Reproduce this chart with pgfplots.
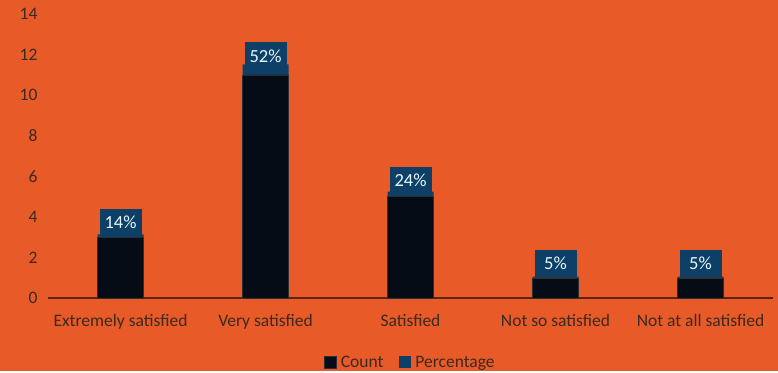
\documentclass[border=0pt]{standalone}
\usepackage{pgfplots}
\pgfplotsset{compat=1.18}
\usepackage{fontspec}
\setmainfont{Carlito}
\definecolor{bgorange}{HTML}{E85A27}
\definecolor{barblack}{HTML}{050C16}
\definecolor{navy}{HTML}{0D3F67}
\definecolor{labgray}{HTML}{3A2A22}
\begin{document}
\begin{tikzpicture}
\fill[bgorange] (0,0) rectangle (778bp,371bp);
\begin{axis}[
  at={(48bp,73bp)}, anchor=south west,
  scale only axis, width=725bp, height=284bp,
  ybar stacked, bar width=46bp,
  xmin=-0.5, xmax=4.5, ymin=0, ymax=14,
  xtick=data,
  xticklabels={Extremely satisfied, Very satisfied, Satisfied, Not so satisfied, Not at all satisfied},
  ytick={0,2,...,14},
  major tick length=0,
  axis lines=left,
  y axis line style={draw=none},
  x axis line style={draw=black!60!bgorange, line width=1.2pt, -},
  ticklabel style={font=\fontsize{17.5bp}{20bp}\selectfont, text=labgray},
  /pgf/number format/assume math mode=true,
  xticklabel style={yshift=-13bp},
  yticklabel style={xshift=-7bp},
  legend style={at={(0.5,-0.227)}, anchor=center, legend columns=2, draw=none, fill=none,
    font=\fontsize{17.5bp}{20bp}\selectfont, text=labgray,
    /tikz/every even column/.append style={column sep=14bp}},
  legend image code/.code={\fill[#1] (0bp,-6bp) rectangle (12bp,6bp);},
  clip=false,
]
\addplot[fill=barblack, draw=barblack!70!gray] coordinates {(0,3) (1,11) (2,5) (3,1) (4,1)};
\addlegendentry{\hspace{2bp}Count}
\addplot[fill=navy, draw=none,
  point meta=explicit symbolic,
  nodes near coords,
  every node near coord/.style={anchor=south, fill=navy, text=white!90!cyan, inner sep=0pt,
    minimum width=42bp, minimum height=27bp, font=\fontsize{18.5bp}{20bp}\selectfont}]
  coordinates {(0,0.14)[14\%] (1,0.52)[52\%] (2,0.24)[24\%] (3,0.05)[5\%] (4,0.05)[5\%]};
\addlegendentry{\hspace{2bp}Percentage}
\end{axis}
\end{tikzpicture}
\end{document}
